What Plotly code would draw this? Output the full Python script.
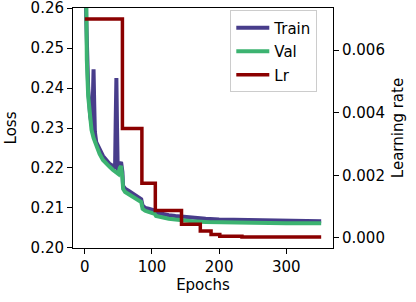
import plotly.graph_objects as go

# Train loss
train_epochs = [0, 2, 5, 8, 11, 12, 13, 14, 15, 17, 22, 27, 32, 37, 42, 45, 46, 47, 48, 49, 51, 52, 54, 56, 57,
                60, 65, 70, 75, 80, 84, 86, 90, 95, 100, 104, 106, 115, 125, 135, 145, 160, 180, 200, 250, 300, 352]
train_loss = [0.290, 0.258, 0.240, 0.233, 0.2300, 0.236, 0.2447, 0.236, 0.229, 0.2265, 0.2245, 0.2230, 0.2220,
              0.2210, 0.2205, 0.2198, 0.232, 0.2425, 0.230, 0.2195, 0.2195, 0.2210, 0.2215, 0.2190, 0.2155,
              0.2148, 0.2143, 0.2138, 0.2133, 0.2128, 0.2122, 0.2106, 0.2100, 0.2098, 0.2097, 0.2094, 0.2089,
              0.2085, 0.2082, 0.2080, 0.2078, 0.2076, 0.2073, 0.2071, 0.2069, 0.2068, 0.2067]

# Validation loss
val_epochs = [0, 1, 2, 3, 5, 7, 8, 10, 13, 17, 22, 27, 32, 37, 42, 47, 50, 52, 54, 56, 57, 60, 65, 70, 75, 80,
              84, 86, 90, 95, 100, 104, 106, 115, 125, 135, 145, 160, 180, 200, 250, 300, 352]
val_loss = [0.300, 0.270, 0.255, 0.247, 0.238, 0.234, 0.2318, 0.2295, 0.2275, 0.2255, 0.2235, 0.2220, 0.2210,
            0.2203, 0.2195, 0.2188, 0.2185, 0.2200, 0.2205, 0.2175, 0.2148, 0.2140, 0.2135, 0.2130, 0.2125,
            0.2120, 0.2115, 0.2098, 0.2093, 0.2090, 0.2088, 0.2085, 0.2080, 0.2076, 0.2073, 0.2071, 0.2069,
            0.2067, 0.2065, 0.2064, 0.2063, 0.2062, 0.2062]

# Learning rate (step changes)
lr_epochs = [0, 56, 85, 105, 144, 172, 188, 201, 234, 352]
lr_values = [0.007, 0.0035, 0.00175, 0.000875, 0.0004375, 0.00021875, 0.000109, 0.0000547, 0.0000273, 0.0000273]

x_ticks = [0, 100, 200, 300]
loss_ticks = [0.20, 0.21, 0.22, 0.23, 0.24, 0.25, 0.26]
lr_ticks = [0.000, 0.002, 0.004, 0.006]

FONT = "DejaVu Sans"
FS = 15
fig = go.Figure()
fig.add_trace(go.Scatter(x=train_epochs, y=train_loss, mode="lines", name="Train",
                         line=dict(color="#483D8B", width=4), legendgroup="a"))
fig.add_trace(go.Scatter(x=val_epochs, y=val_loss, mode="lines", name="Val",
                         line=dict(color="#3CB371", width=4), legendgroup="b"))
fig.add_trace(go.Scatter(x=lr_epochs, y=lr_values, mode="lines", name="Lr", yaxis="y2",
                         line=dict(color="#8B0000", width=3.5, shape="hv"), legendgroup="c"))

axis_common = dict(showline=True, linecolor="black", linewidth=1, ticks="outside", ticklen=5,
                   tickwidth=1, tickcolor="black", showgrid=False, zeroline=False, automargin=False,
                   ticklabeloverflow="allow",
                   tickfont=dict(family=FONT, size=FS, color="black"))

fig.update_layout(
    width=416, height=302,
    margin=dict(l=73, r=83, t=8, b=54, autoexpand=False),
    paper_bgcolor="white", plot_bgcolor="white",
    font=dict(family=FONT, size=FS, color="black"),
    xaxis=dict(range=[-17.6, 369.6], tickvals=x_ticks, mirror=True,
               title=dict(text="Epochs", font=dict(family=FONT, size=FS), standoff=4), **axis_common),
    yaxis=dict(range=[0.19999, 0.26001], tickvals=loss_ticks, tickformat=".2f", mirror=False,
               title=dict(text="Loss", font=dict(family=FONT, size=FS), standoff=10), **axis_common),
    yaxis2=dict(range=[-0.000321, 0.007349], tickvals=lr_ticks, tickformat=".3f", overlaying="y",
                side="right", anchor="x",
                title=dict(text="Learning rate", font=dict(family=FONT, size=FS), standoff=8), **axis_common),
    legend=dict(x=0.605, y=0.99, xanchor="left", yanchor="top", bgcolor="rgba(255,255,255,0.8)",
                bordercolor="#cccccc", borderwidth=1, font=dict(family=FONT, size=FS),
                tracegroupgap=1, itemwidth=33),
    showlegend=True,
)
fig.write_html("out.html", config={"displayModeBar": False},
               post_script="document.body.style.margin='0';document.body.style.padding='0';")
